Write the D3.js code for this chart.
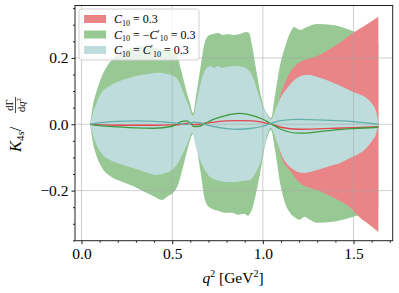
<!DOCTYPE html>
<html>
<head>
<meta charset="utf-8">
<script src="https://cdn.jsdelivr.net/npm/d3@7"></script>
<style>
body { margin: 0; background: #fff; }
text { font-family: "Liberation Serif", "Times New Roman", "DejaVu Serif", serif; fill: #000; }
</style>
</head>
<body>
<svg id="chart" width="399" height="293"></svg>
<script>
// ---- data ----
// C10 = -C10' (green band)
var greenUpQ = [0.047,0.063,0.085,0.113,0.157,0.212,0.268,0.334,0.378,0.433,0.488,0.521,0.549,0.576,0.598,0.615,0.632,0.654,0.676,0.698,0.725,0.753,0.780,0.808,0.836,0.874,0.908,0.924,0.940,0.963,0.985,1.007,1.029,1.045,1.067,1.095,1.122,1.150,1.172,1.205,1.244,1.299,1.387,1.481,1.525,1.580,1.637]
var greenUp  = [0,0.058,0.103,0.146,0.188,0.215,0.230,0.236,0.233,0.227,0.221,0.215,0.164,0.104,0.064,0.034,0.088,0.164,0.239,0.266,0.272,0.275,0.269,0.272,0.269,0.272,0.278,0.275,0.239,0.164,0.097,0.049,0.028,0.019,0.088,0.179,0.233,0.275,0.293,0.284,0.293,0.302,0.299,0.284,0.275,0.260,0.248]
var greenLoQ = [0.047,0.063,0.085,0.113,0.157,0.212,0.284,0.350,0.405,0.444,0.477,0.505,0.532,0.560,0.587,0.615,0.637,0.659,0.681,0.709,0.753,0.792,0.830,0.863,0.896,0.918,0.935,0.957,0.985,1.007,1.029,1.045,1.067,1.095,1.122,1.150,1.178,1.205,1.227,1.260,1.299,1.387,1.481,1.536,1.580,1.637]
var greenLo  = [0,-0.056,-0.099,-0.132,-0.156,-0.171,-0.186,-0.204,-0.219,-0.228,-0.216,-0.207,-0.183,-0.129,-0.071,-0.030,-0.077,-0.153,-0.228,-0.252,-0.261,-0.267,-0.267,-0.273,-0.270,-0.276,-0.264,-0.222,-0.147,-0.077,-0.032,-0.017,-0.077,-0.177,-0.237,-0.267,-0.282,-0.288,-0.279,-0.288,-0.297,-0.294,-0.282,-0.273,-0.264,-0.252]

// C10 = 0.3 (red band)
var redQ  = [0.047,0.15,0.30,0.45,0.55,0.615,0.70,0.85,0.95,1.045,1.07,1.11,1.15,1.205,1.25,1.30,1.387,1.44,1.497,1.57,1.637]
var redUp = [0,0.07,0.09,0.09,0.06,0.02,0.08,0.10,0.07,0.015,0.04,0.109,0.157,0.188,0.197,0.206,0.233,0.252,0.275,0.300,0.324]
var redLoQ = [0.047,0.15,0.30,0.45,0.55,0.615,0.70,0.85,0.95,1.045,1.07,1.11,1.15,1.205,1.30,1.387,1.44,1.48,1.53,1.58,1.637]
var redLo  = [0,-0.06,-0.08,-0.09,-0.05,-0.02,-0.08,-0.10,-0.07,-0.01,-0.04,-0.11,-0.14,-0.178,-0.199,-0.22,-0.236,-0.25,-0.279,-0.30,-0.325]

// C10 = C10' (teal band)
var tealUpQ = [0.047,0.063,0.085,0.113,0.146,0.201,0.268,0.334,0.378,0.422,0.466,0.505,0.532,0.560,0.587,0.615,0.637,0.665,0.692,0.714,0.731,0.753,0.775,0.808,0.847,0.886,0.919,0.946,0.968,0.996,1.018,1.045,1.073,1.100,1.139,1.189,1.244,1.315,1.387,1.453,1.497,1.536,1.575,1.602,1.624,1.637]
var tealUp  = [0,0.034,0.067,0.097,0.112,0.128,0.140,0.149,0.152,0.155,0.152,0.146,0.134,0.097,0.061,0.025,0.073,0.140,0.170,0.176,0.170,0.176,0.170,0.173,0.176,0.173,0.164,0.140,0.103,0.058,0.034,0.015,0.049,0.082,0.112,0.140,0.149,0.140,0.125,0.109,0.097,0.090,0.078,0.062,0.040,0]
var tealLoQ = [0.047,0.063,0.085,0.113,0.157,0.212,0.284,0.350,0.416,0.461,0.499,0.532,0.560,0.587,0.609,0.632,0.654,0.681,0.709,0.747,0.792,0.836,0.886,0.930,0.957,0.985,1.007,1.029,1.045,1.073,1.111,1.150,1.222,1.299,1.371,1.426,1.481,1.536,1.575,1.602,1.624,1.637]
var tealLo  = [0,-0.032,-0.065,-0.090,-0.108,-0.120,-0.132,-0.144,-0.153,-0.147,-0.138,-0.117,-0.087,-0.053,-0.025,-0.071,-0.108,-0.138,-0.159,-0.168,-0.174,-0.174,-0.171,-0.168,-0.150,-0.117,-0.071,-0.023,-0.011,-0.047,-0.102,-0.129,-0.147,-0.138,-0.126,-0.117,-0.102,-0.087,-0.069,-0.050,-0.029,0]

// central values
var lineQ    = [0.047,0.10,0.20,0.30,0.40,0.50,0.55,0.58,0.60,0.62,0.65,0.68,0.72,0.80,0.87,0.94,1.00,1.04,1.10,1.20,1.30,1.40,1.50,1.637]
var redMid   = [0,-0.002,-0.003,-0.003,-0.003,-0.002,0.000,0.003,0.002,-0.001,0.000,0.003,0.006,0.010,0.011,0.010,0.006,0.001,-0.009,-0.015,-0.014,-0.012,-0.010,-0.007]
var greenMid = [0,-0.004,-0.008,-0.011,-0.012,-0.006,0.008,0.010,0.004,-0.007,-0.006,0.002,0.013,0.027,0.033,0.027,0.015,0.003,-0.015,-0.027,-0.023,-0.017,-0.013,-0.009]
var tealMid  = [0,0.005,0.009,0.010,0.009,0.005,0.001,-0.001,0.004,0.006,0.005,0.000,-0.006,-0.013,-0.015,-0.012,-0.006,0.002,0.011,0.015,0.013,0.011,0.008,0.000]

var xTicks = [0, 0.5, 1.0, 1.5]
var xMinor = [0.1,0.2,0.3,0.4,0.6,0.7,0.8,0.9,1.1,1.2,1.3,1.4,1.6,1.7]
var yTicks = [-0.2, 0, 0.2]
var yMinor = [-0.35,-0.3,-0.25,-0.15,-0.1,-0.05,0.05,0.1,0.15,0.25,0.3,0.35]

var legendNames = ["red", "green", "teal"]

// ---- layout ----
var screen = {width: 399, height: 293}
var margin = {left: 75, right: 6.3, top: 5.5, bottom: 52.3}
var width = screen.width - margin.left - margin.right
var height = screen.height - margin.top - margin.bottom

var fills = {red: "#e98586", green: "#98c995", teal: "#bddcdb"}
var strokes = {red: "#e2464f", green: "#3f9a3f", teal: "#65afab"}

var xScale = d3.scaleLinear().domain([-0.036, 1.716]).range([0, width])
var yScale = d3.scaleLinear().domain([-0.351, 0.358]).range([height, 0])

var svg = d3.select("#chart")
var g = svg.append("g").attr("transform", "translate(" + margin.left + "," + margin.top + ")")

g.append("clipPath").attr("id", "clip")
  .append("rect").attr("width", width).attr("height", height)

var plot = g.append("g").attr("clip-path", "url(#clip)")

var pts = function(qs, vs){
  return qs.map(function(q, i){ return [xScale(q), yScale(vs[i])] })
}
var edge = d3.line().curve(d3.curveMonotoneX)

var bandPath = function(upQ, up, loQ, lo){
  var top = edge(pts(upQ, up))
  var bottom = edge(pts(loQ, lo).reverse())
  return top + "L" + bottom.slice(1) + "Z"
}

// draw order: green under red under teal
plot.append("path").attr("d", bandPath(greenUpQ, greenUp, greenLoQ, greenLo)).attr("fill", fills.green)
plot.append("path").attr("d", bandPath(redQ, redUp, redLoQ, redLo)).attr("fill", fills.red)
plot.append("path").attr("d", bandPath(tealUpQ, tealUp, tealLoQ, tealLo)).attr("fill", fills.teal)

// grid on top of the bands
plot.selectAll(".gx").data(xTicks).enter().append("line")
  .attr("x1", function(d){ return xScale(d) }).attr("x2", function(d){ return xScale(d) })
  .attr("y1", 0).attr("y2", height)
  .attr("stroke", "#a8a8a8").attr("stroke-opacity", 0.55).attr("stroke-width", 1)
plot.selectAll(".gy").data(yTicks).enter().append("line")
  .attr("y1", function(d){ return yScale(d) }).attr("y2", function(d){ return yScale(d) })
  .attr("x1", 0).attr("x2", width)
  .attr("stroke", "#a8a8a8").attr("stroke-opacity", 0.55).attr("stroke-width", 1)

var mid = d3.line()
  .x(function(d, i){ return xScale(lineQ[i]) })
  .y(function(d){ return yScale(d) })
  .curve(d3.curveMonotoneX)

plot.append("path").attr("d", mid(redMid)).attr("fill", "none").attr("stroke", strokes.red).attr("stroke-width", 1.3)
plot.append("path").attr("d", mid(greenMid)).attr("fill", "none").attr("stroke", strokes.green).attr("stroke-width", 1.3)
plot.append("path").attr("d", mid(tealMid)).attr("fill", "none").attr("stroke", strokes.teal).attr("stroke-width", 1.3)

// axes
g.append("g").attr("transform", "translate(0," + height + ")")
  .call(d3.axisBottom(xScale).tickValues(xTicks).tickSize(3.5).tickPadding(4).tickFormat(d3.format(".1f")))
g.append("g").attr("transform", "translate(0," + height + ")")
  .call(d3.axisBottom(xScale).tickValues(xMinor).tickSize(2).tickFormat(""))
g.append("g")
  .call(d3.axisLeft(yScale).tickValues(yTicks).tickSize(3.5).tickPadding(3).tickFormat(d3.format(".1f")))
g.append("g")
  .call(d3.axisLeft(yScale).tickValues(yMinor).tickSize(2).tickFormat(""))

g.selectAll(".domain").remove()
g.selectAll(".tick line").attr("stroke", "#000").attr("stroke-width", 0.9)
g.selectAll(".tick text").attr("font-size", 15.5).attr("font-family", null).attr("fill", "#000")

g.append("rect").attr("width", width).attr("height", height)
  .attr("fill", "none").attr("stroke", "#222").attr("stroke-width", 1)

// legend
var legend = g.append("g").attr("transform", "translate(" + (79 - margin.left) + "," + (9 - margin.top) + ")")
legend.append("rect").attr("width", 120).attr("height", 51).attr("rx", 2.5)
  .attr("fill", "#fff").attr("fill-opacity", 0.8).attr("stroke", "#d0d0d0").attr("stroke-width", 1)

var rows = legend.selectAll(".row").data(legendNames).enter().append("g")
  .attr("transform", function(d, i){ return "translate(0," + (10 + i * 15.5) + ")" })
rows.append("rect").attr("x", 5).attr("y", -4).attr("width", 22).attr("height", 8)
  .attr("fill", function(d){ return fills[d] })

var label = rows.append("text").attr("x", 35).attr("y", 4).attr("font-size", 12)
label.each(function(d){
  var t = d3.select(this)
  t.append("tspan").attr("font-style", "italic").text("C")
  t.append("tspan").attr("font-size", 8).attr("dy", 2.5).text("10")
  if (d === "red") {
    t.append("tspan").attr("dy", -2.5).text(" = 0.3")
  } else {
    t.append("tspan").attr("dy", -2.5).text(d === "green" ? " = −" : " = ")
    t.append("tspan").attr("font-style", "italic").text("C")
    t.append("tspan").attr("font-size", 10).attr("dy", -2).text("′")
    t.append("tspan").attr("font-size", 8).attr("dy", 4.5).text("10")
    t.append("tspan").attr("dy", -2.5).text(" = 0.3")
  }
})

// x label
var xl = svg.append("text").attr("x", 233).attr("y", 283).attr("text-anchor", "middle").attr("font-size", 15.5)
xl.append("tspan").attr("font-style", "italic").text("q")
xl.append("tspan").attr("font-size", 10).attr("dy", -6).text("2")
xl.append("tspan").attr("dy", 6).text(" [GeV")
xl.append("tspan").attr("font-size", 10).attr("dy", -6).text("2")
xl.append("tspan").attr("dy", 6).text("]")

// y label, rotated, with a small fraction dΓ / dq²
var yl = svg.append("g").attr("transform", "translate(21,123) rotate(-90)")
var kt = yl.append("text").attr("x", -29).attr("y", 0).attr("font-size", 16.5)
kt.append("tspan").attr("font-style", "italic").text("K")
kt.append("tspan").attr("font-size", 11).attr("dy", 3).text("4")
kt.append("tspan").attr("font-size", 11).attr("font-style", "italic").text("s")
kt.append("tspan").attr("dy", -3).text("/")
var fx = 18
yl.append("text").attr("x", fx).attr("y", -8.5).attr("text-anchor", "middle").attr("font-size", 10.5).text("dΓ")
var den = yl.append("text").attr("x", fx).attr("y", 4).attr("text-anchor", "middle").attr("font-size", 10.5)
den.append("tspan").text("d")
den.append("tspan").attr("font-style", "italic").text("q")
den.append("tspan").attr("font-size", 7).attr("dy", -4).text("2")
yl.append("line").attr("x1", fx - 8).attr("x2", fx + 8).attr("y1", -5.5).attr("y2", -5.5)
  .attr("stroke", "#000").attr("stroke-width", 0.7)
</script>
</body>
</html>
